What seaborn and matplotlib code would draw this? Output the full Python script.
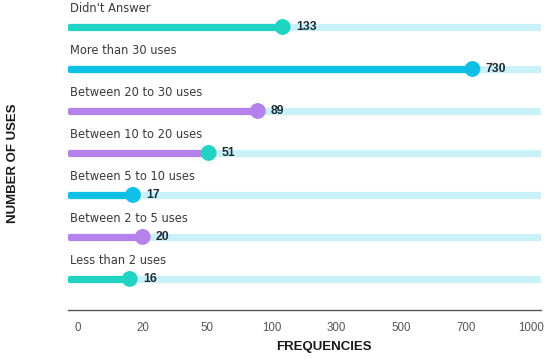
import numpy as np
import pandas as pd
import matplotlib
matplotlib.use("Agg")
import matplotlib.pyplot as plt
import seaborn as sns

categories = ["Didn't Answer", "More than 30 uses", "Between 20 to 30 uses",
              "Between 10 to 20 uses", "Between 5 to 10 uses",
              "Between 2 to 5 uses", "Less than 2 uses"]
values = [133, 730, 89, 51, 17, 20, 16]
bar_colors = ["#20d3c3", "#0fc0e6", "#b482ea", "#b482ea", "#0fc0e6", "#b482ea", "#20d3c3"]
dot_colors = ["#20d3c3", "#0fc0e6", "#b482ea", "#20d3c3", "#0fc0e6", "#b482ea", "#20d3c3"]
tick_values = [0, 20, 50, 100, 300, 500, 700, 1000]
tick_labels = ["0", "20", "50", "100", "300", "500", "700", "1000"]

TRACK = "#c8f2f7"

tv = np.array(tick_values, dtype=float)
ti = np.arange(len(tv), dtype=float)


def fwd(v):
    v = np.asarray(v, dtype=float)
    out = np.interp(v, tv, ti)
    lo = v < tv[0]
    hi = v > tv[-1]
    out = np.where(lo, (v - tv[0]) / (tv[1] - tv[0]), out)
    out = np.where(hi, ti[-1] + (v - tv[-1]) / (tv[-1] - tv[-2]), out)
    return out


def inv(i):
    i = np.asarray(i, dtype=float)
    out = np.interp(i, ti, tv)
    lo = i < ti[0]
    hi = i > ti[-1]
    out = np.where(lo, tv[0] + i * (tv[1] - tv[0]), out)
    out = np.where(hi, tv[-1] + (i - ti[-1]) * (tv[-1] - tv[-2]), out)
    return out


sns.set_theme(style="white")
plt.rcParams['font.family'] = ['Liberation Sans', 'DejaVu Sans']

fig = plt.figure(figsize=(5.5, 3.59), dpi=100)
ax = fig.add_axes([68 / 550, 1 - 310 / 359, (541 - 68) / 550, 310 / 359])
ax.set_xscale('function', functions=(fwd, inv))

xmin = inv(-0.155)
xmax = inv(7.16)
ax.set_xlim(xmin, xmax)
ax.set_ylim(6.74, -0.643)

df = pd.DataFrame({"category": categories, "value": values, "y": np.arange(len(categories))})

for i, (v, bc) in enumerate(zip(values, bar_colors)):
    ax.plot([xmin, xmax], [i, i], color=TRACK, lw=5.2, solid_capstyle='butt', zorder=1)
    ax.plot([xmin + 0.5, v], [i, i], color=bc, lw=5.2, solid_capstyle='round', zorder=2)

sns.scatterplot(data=df, x="value", y="y", hue="category", palette=dot_colors,
                s=130, edgecolor='none', legend=False, ax=ax, zorder=3)

for i, (c, v) in enumerate(zip(categories, values)):
    ax.annotate(c, xy=(xmin, i), xytext=(1.5, 13.2), textcoords='offset points',
                ha='left', va='center', fontsize=8.3, color='#3a3a3a',
                family='DejaVu Sans')
    ax.annotate(str(v), xy=(v, i), xytext=(9.5, 0), textcoords='offset points',
                ha='left', va='center', fontsize=8.8, fontweight='bold', color='#1e2b38')

ax.set_xticks(tick_values)
ax.set_xticklabels(tick_labels)
ax.set_yticks([])
ax.tick_params(axis='x', length=0, pad=8.5, labelsize=8.3, labelcolor='#555555')
for s in ['top', 'right', 'left']:
    ax.spines[s].set_visible(False)
ax.spines['bottom'].set_color('#555555')
ax.spines['bottom'].set_linewidth(1.0)
ax.set_xlabel("")
ax.set_ylabel("")

fig.text(324 / 550, 1 - 347 / 359, "FREQUENCIES", ha='center', va='center',
         fontsize=9.5, fontweight='bold', color='#1a1a1a')
fig.text(13 / 550, 1 - 163 / 359, "NUMBER OF USES", ha='center', va='center',
         rotation=90, fontsize=9.5, fontweight='bold', color='#1a1a1a')

fig.savefig("out.png", dpi=100)
